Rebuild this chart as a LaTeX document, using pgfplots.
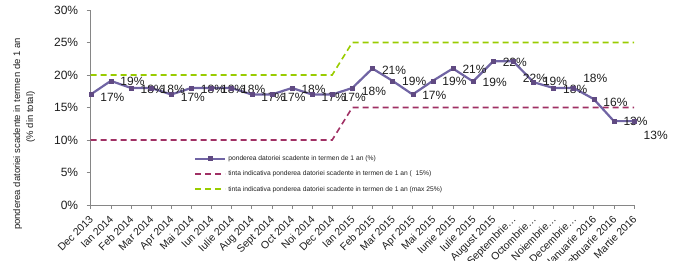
\documentclass[border=0pt]{standalone}
\usepackage{fontspec}
\setmainfont{Liberation Sans}
\usepackage{pgfplots}
\pgfplotsset{compat=1.18}
\usepackage{pgfplotstable}

\definecolor{mainline}{RGB}{112,100,164}
\definecolor{mainmark}{RGB}{96,74,130}
\definecolor{magline}{RGB}{160,48,100}
\definecolor{grnline}{RGB}{153,204,0}
\definecolor{axgray}{RGB}{134,134,134}
\definecolor{txt}{RGB}{30,30,30}

\pgfplotstableread{
x y lab dy
0 17.0 17 -3
1 19.1 19 -1
2 18.0 18 -1
3 18.0 18 -1
4 17.0 17 -3
5 18.0 18 -1
6 18.0 18 -1
7 18.0 18 -1
8 17.0 17 -3
9 17.0 17 -3
10 18.0 18 -1
11 17.0 17 -3
12 17.0 17 -3
13 18.0 18 -3
14 21.0 21 -2
15 19.1 19 -1
16 17.0 17 -1
17 19.1 19 -1
18 21.0 21 -1
19 19.0 19 -1
20 22.1 22 -1
21 22.1 22 -17
22 18.9 19 1
23 18.0 18 -1
24 18.0 18 10
25 16.3 16 -3
26 12.9 13 0
27 12.9 13 -14
}\datatable

\begin{document}
\begin{tikzpicture}[x=1pt,y=1pt]
\useasboundingbox (0,0) rectangle (682,261);
\begin{axis}[
  at={(90.7pt,56pt)}, anchor=south west,
  scale only axis, width=543.3pt, height=195pt,
  xmin=0, xmax=27, ymin=0, ymax=30,
  clip=false,
  axis x line*=bottom, axis y line*=left,
  axis line style={draw=axgray, line width=0.8pt, -},
  tick style={draw=axgray, line width=0.6pt},
  tick align=outside, major tick length=4pt,
  xtick={0,...,27},
  xticklabels={Dec 2013,Ian 2014,Feb 2014,Mar 2014,Apr 2014,Mai 2014,Iun 2014,Iulie 2014,Aug 2014,Sept 2014,Oct 2014,Noi 2014,Dec 2014,Ian 2015,Feb 2015,Mar 2015,Apr 2015,Mai 2015,Iunie 2015,Iulie 2015,August 2015,Septembrie…,Octombrie…,Noiembrie…,Decembrie…,Ianuarie 2016,Februarie 2016,Martie 2016},
  xticklabel style={xshift=-2pt, yshift=-4pt, rotate=45, anchor=north east, font=\fontsize{10.5}{12}\selectfont, text=txt, inner sep=1pt},
  ytick={0,5,...,30},
  yticklabels={0\%,5\%,10\%,15\%,20\%,25\%,30\%},
  yticklabel style={xshift=-5pt, font=\fontsize{12}{14}\selectfont, text=txt},
  ylabel={ponderea datoriei scadente in termen de 1 an\\\hspace*{34pt}(\% din total)},
  ylabel style={align=center, font=\fontsize{9.5}{13}\selectfont, text=txt, at={(axis description cs:-0.096,0.364)}, anchor=south},
  legend style={at={(rel axis cs:0.19,0.265)}, anchor=north west, draw=none, fill=none,
     font=\fontsize{6.7}{8}\selectfont, text=txt, row sep=5pt, cells={anchor=west}, inner sep=0pt},
]
\addlegendimage{legend image code/.code={%
   \draw[mainline, line width=2.2pt] (0pt,0pt) -- (30pt,0pt);
   \fill[mainmark] (13pt,-2pt) rectangle (17pt,2pt);}}
\addlegendentry{ponderea datoriei scadente in termen de 1 an (\%)}
\addlegendimage{legend image code/.code={%
   \draw[magline, line width=1.6pt, dash pattern=on 6pt off 4pt] (0pt,0pt) -- (30pt,0pt);}}
\addlegendentry{tinta indicativa ponderea datoriei scadente in termen de 1 an (\ \ 15\%)}
\addlegendimage{legend image code/.code={%
   \draw[draw={rgb,255:red,153;green,204;blue,0}, line width=2pt, dash pattern=on 6pt off 4pt] (0pt,0pt) -- (30pt,0pt);}}
\addlegendentry{tinta indicativa ponderea datoriei scadente in termen de 1 an (max 25\%)}

\addplot[forget plot, color=grnline, line width=1.6pt, dash pattern=on 6pt off 4pt] coordinates {(0,20) (12,20) (13,25) (27,25)};
\addplot[forget plot, color=magline, line width=1.6pt, dash pattern=on 6pt off 4pt] coordinates {(0,10) (12,10) (13,15) (27,15)};
\addplot[forget plot, color=mainline, line width=2.2pt, mark=square*, mark size=2pt,
   mark options={solid, fill=mainmark, draw=mainmark, line width=0.3pt},
   point meta=explicit symbolic,
   visualization depends on={\thisrow{dy} \as \labdy},
   nodes near coords={\pgfplotspointmeta\%},
   every node near coord/.append style={anchor=west, xshift=9.5pt, yshift=\labdy pt, inner sep=0pt,
      font=\fontsize{12}{14}\selectfont, text=txt}]
   table[x=x, y=y, meta=lab]{\datatable};
\end{axis}
\end{tikzpicture}
\end{document}
